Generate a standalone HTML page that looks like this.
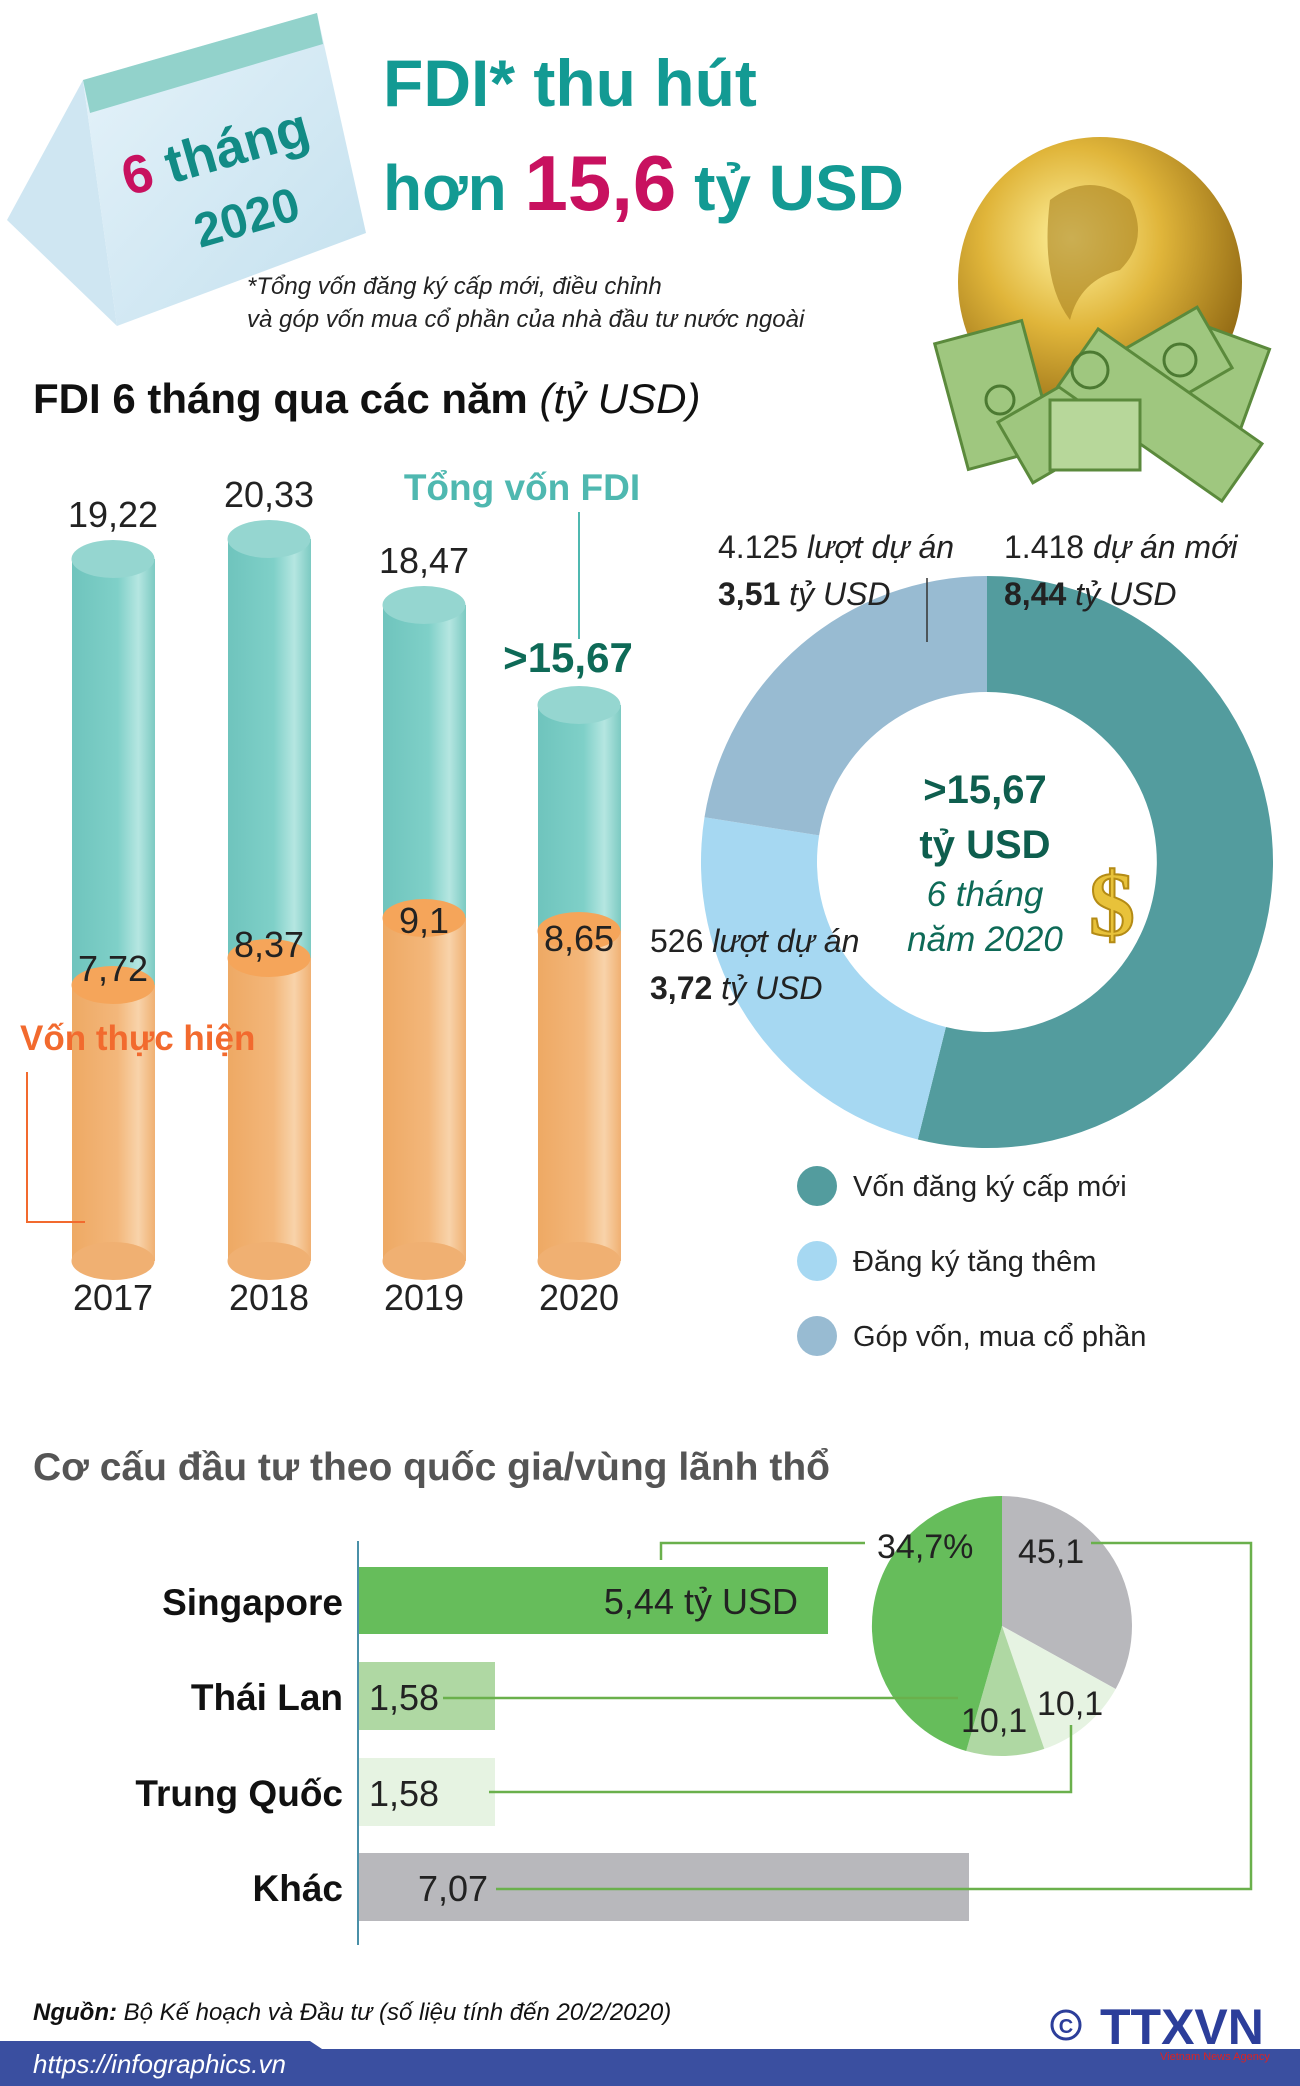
<!DOCTYPE html>
<html><head><meta charset="utf-8"><style>
html,body{margin:0;padding:0;background:#fff;}
svg{display:block;font-family:"Liberation Sans Narrow","Liberation Sans",sans-serif;}
</style></head><body>
<svg width="1300" height="2086" viewBox="0 0 1300 2086" xmlns="http://www.w3.org/2000/svg">
<defs>
<linearGradient id="tg" x1="0" x2="1" y1="0" y2="0"><stop offset="0" stop-color="#6fc4bd"/><stop offset="0.55" stop-color="#7fd0c8"/><stop offset="0.8" stop-color="#b5e6e1"/><stop offset="1" stop-color="#7ccac2"/></linearGradient>
<linearGradient id="og" x1="0" x2="1" y1="0" y2="0"><stop offset="0" stop-color="#eea964"/><stop offset="0.55" stop-color="#f3b77b"/><stop offset="0.8" stop-color="#f8d3aa"/><stop offset="1" stop-color="#f0b072"/></linearGradient>
<radialGradient id="gg" cx="0.4" cy="0.35" r="0.7"><stop offset="0" stop-color="#fff3a0"/><stop offset="0.45" stop-color="#e0b53a"/><stop offset="1" stop-color="#8a6210"/></radialGradient>
<linearGradient id="cal" x1="0" x2="1" y1="0" y2="1"><stop offset="0" stop-color="#e6f3fa"/><stop offset="1" stop-color="#c3e0ee"/></linearGradient>
</defs>

<!-- calendar -->
<polygon points="7,220 83,80 117,326" fill="#cfe6f2"/>
<polygon points="83,80 317,13 366,233 117,326" fill="url(#cal)"/>
<polygon points="83,80 317,13 323,44 90,113" fill="#92d2cb"/>
<text x="0" y="0" transform="translate(128,196) rotate(-16)" font-size="54" font-weight="bold" fill="#c8115f" font-family="Liberation Sans,sans-serif">6 <tspan fill="#128b85">tháng</tspan></text>
<text x="0" y="0" transform="translate(200,248) rotate(-16)" font-size="48" font-weight="bold" fill="#128b85" font-family="Liberation Sans,sans-serif">2020</text>

<!-- title -->
<text x="383" y="106" font-size="66" font-weight="bold" fill="#139a93">FDI* thu hút</text>
<text x="383" y="210" font-size="64" font-weight="bold" fill="#139a93">hơn <tspan fill="#c8115f" font-size="78">15,6</tspan> tỷ USD</text>
<text x="247" y="294" font-size="24" font-style="italic" fill="#222">*Tổng vốn đăng ký cấp mới, điều chỉnh</text>
<text x="247" y="327" font-size="24" font-style="italic" fill="#222">và góp vốn mua cổ phần của nhà đầu tư nước ngoài</text>

<!-- globe + money -->
<ellipse cx="1100" cy="282" rx="142" ry="145" fill="url(#gg)"/>
<path d="M1050 200 q40 -30 80 0 q20 40 -10 70 q-40 10 -50 50 q-30 -40 -20 -120z" fill="#a8801e" opacity="0.6"/>
<g fill="#9fc77f" stroke="#5b8a3c" stroke-width="3">
<rect x="950" y="330" width="90" height="130" transform="rotate(-15 995 395)"/>
<rect x="1160" y="330" width="90" height="130" transform="rotate(20 1205 395)"/>
<rect x="1000" y="360" width="230" height="70" transform="rotate(-30 1115 395)"/>
<rect x="1060" y="380" width="200" height="70" transform="rotate(35 1160 415)"/>
<rect x="1050" y="400" width="90" height="70" fill="#b7d79a"/>
</g>
<g fill="none" stroke="#4c7a32" stroke-width="3"><circle cx="1090" cy="370" r="18"/><circle cx="1180" cy="360" r="16"/><circle cx="1000" cy="400" r="14"/></g>

<!-- section 1 title -->
<text x="33" y="413" font-size="42" font-weight="bold" fill="#111">FDI 6 tháng qua các năm <tspan font-weight="normal" font-style="italic">(tỷ USD)</tspan></text>

<!-- cylinders -->
<g>
<rect x="72" y="559" width="83" height="702" fill="url(#tg)"/><rect x="72" y="985" width="83" height="276" fill="url(#og)"/><ellipse cx="113" cy="1261" rx="41.5" ry="19" fill="#f0b072"/><ellipse cx="113" cy="985" rx="41.5" ry="19" fill="#f5a55a"/><ellipse cx="113" cy="559" rx="41.5" ry="19" fill="#95d6d0"/>
<rect x="228" y="539" width="83" height="722" fill="url(#tg)"/><rect x="228" y="958" width="83" height="303" fill="url(#og)"/><ellipse cx="269" cy="1261" rx="41.5" ry="19" fill="#f0b072"/><ellipse cx="269" cy="958" rx="41.5" ry="19" fill="#f5a55a"/><ellipse cx="269" cy="539" rx="41.5" ry="19" fill="#95d6d0"/>
<rect x="383" y="605" width="83" height="656" fill="url(#tg)"/><rect x="383" y="918" width="83" height="343" fill="url(#og)"/><ellipse cx="424" cy="1261" rx="41.5" ry="19" fill="#f0b072"/><ellipse cx="424" cy="918" rx="41.5" ry="19" fill="#f5a55a"/><ellipse cx="424" cy="605" rx="41.5" ry="19" fill="#95d6d0"/>
<rect x="538" y="705" width="83" height="556" fill="url(#tg)"/><rect x="538" y="931" width="83" height="330" fill="url(#og)"/><ellipse cx="579" cy="1261" rx="41.5" ry="19" fill="#f0b072"/><ellipse cx="579" cy="931" rx="41.5" ry="19" fill="#f5a55a"/><ellipse cx="579" cy="705" rx="41.5" ry="19" fill="#95d6d0"/>
</g>
<g font-size="36" fill="#222" text-anchor="middle">
<text x="113" y="527">19,22</text><text x="269" y="507">20,33</text><text x="424" y="573">18,47</text>
<text x="113" y="981">7,72</text><text x="269" y="957">8,37</text><text x="424" y="933">9,1</text><text x="579" y="951">8,65</text>
<text x="113" y="1310">2017</text><text x="269" y="1310">2018</text><text x="424" y="1310">2019</text><text x="579" y="1310">2020</text>
</g>
<text x="568" y="672" font-size="42" font-weight="bold" fill="#0e6a57" text-anchor="middle">&gt;15,67</text>
<text x="522" y="500" font-size="37" font-weight="bold" fill="#4fb8b0" text-anchor="middle">Tổng vốn FDI</text>
<line x1="579" y1="512" x2="579" y2="639" stroke="#4fb8b0" stroke-width="2"/>
<text x="20" y="1050" font-size="35" font-weight="bold" fill="#f26a2e">Vốn thực hiện</text>
<polyline points="27,1072 27,1222 85,1222" fill="none" stroke="#f26a2e" stroke-width="2"/>

<!-- donut -->
<path d="M987,576 A286,286 0 1 1 917.8,1139.5 L945.9,1027 A170,170 0 1 0 987,692 Z" fill="#539c9e"/>
<path d="M917.8,1139.5 A286,286 0 0 1 704.5,817.3 L819.1,835.4 A170,170 0 0 0 945.9,1027 Z" fill="#a6d8f2"/>
<path d="M704.5,817.3 A286,286 0 0 1 987,576 L987,692 A170,170 0 0 0 819.1,835.4 Z" fill="#98bbd2"/>
<line x1="927" y1="578" x2="927" y2="642" stroke="#333" stroke-width="1.5"/>
<g font-family="Liberation Sans,sans-serif" text-anchor="middle">
<text x="985" y="803" font-size="40" font-weight="bold" fill="#0e5e4e">&gt;15,67</text>
<text x="985" y="858" font-size="40" font-weight="bold" fill="#0e5e4e">tỷ USD</text>
<text x="985" y="906" font-size="35" font-style="italic" fill="#0e6a57">6 tháng</text>
<text x="985" y="951" font-size="35" font-style="italic" fill="#0e6a57">năm 2020</text>
</g>
<text x="1112" y="935" font-size="92" font-weight="bold" fill="#e8c23a" stroke="#b48b15" stroke-width="2" text-anchor="middle" font-family="Liberation Serif,serif">$</text>
<g font-family="Liberation Sans,sans-serif" font-size="32" fill="#222">
<text x="718" y="558">4.125 <tspan font-style="italic">lượt dự án</tspan></text>
<text x="718" y="605"><tspan font-weight="bold">3,51</tspan> <tspan font-style="italic">tỷ USD</tspan></text>
<text x="1004" y="558">1.418  <tspan font-style="italic">dự án mới</tspan></text>
<text x="1004" y="605"><tspan font-weight="bold">8,44</tspan> <tspan font-style="italic">tỷ USD</tspan></text>
<text x="650" y="952">526 <tspan font-style="italic">lượt dự án</tspan></text>
<text x="650" y="999"><tspan font-weight="bold">3,72</tspan> <tspan font-style="italic">tỷ USD</tspan></text>
</g>
<!-- legend -->
<circle cx="817" cy="1186" r="20" fill="#539c9e"/><circle cx="817" cy="1261" r="20" fill="#a6d8f2"/><circle cx="817" cy="1336" r="20" fill="#98bbd2"/>
<g font-family="Liberation Sans,sans-serif" font-size="29" fill="#222">
<text x="853" y="1196">Vốn đăng ký cấp mới</text><text x="853" y="1271">Đăng ký tăng thêm</text><text x="853" y="1346">Góp vốn, mua cổ phần</text>
</g>

<!-- section 2 -->
<text x="33" y="1480" font-size="39" font-weight="bold" fill="#555">Cơ cấu đầu tư theo quốc gia/vùng lãnh thổ</text>
<rect x="359" y="1567" width="469" height="67" fill="#66bd5b"/>
<rect x="359" y="1662" width="136" height="68" fill="#afd8a3"/>
<rect x="359" y="1758" width="136" height="68" fill="#e6f3e2"/>
<rect x="359" y="1853" width="610" height="68" fill="#b8b8bc"/>
<line x1="358" y1="1541" x2="358" y2="1945" stroke="#4a90a8" stroke-width="2"/>
<g font-size="37" font-weight="bold" fill="#111" text-anchor="end">
<text x="343" y="1615">Singapore</text><text x="343" y="1710">Thái Lan</text><text x="343" y="1806">Trung Quốc</text><text x="343" y="1901">Khác</text>
</g>
<g font-size="36" fill="#222">
<text x="798" y="1614" text-anchor="end">5,44 tỷ USD</text>
<text x="369" y="1710">1,58</text><text x="369" y="1806">1,58</text><text x="418" y="1901">7,07</text>
</g>
<path d="M1002,1626 L1002,1496 A130,130 0 0 1 1115.7,1689 Z" fill="#b8b8bc"/>
<path d="M1002,1626 L1115.7,1689 A130,130 0 0 1 1044.3,1748.9 Z" fill="#e6f3e2"/>
<path d="M1002,1626 L1044.3,1748.9 A130,130 0 0 1 966.2,1751 Z" fill="#afd8a3"/>
<path d="M1002,1626 L966.2,1751 A130,130 0 0 1 1002,1496 Z" fill="#66bd5b"/>
<g fill="none" stroke="#6ab04c" stroke-width="2.5">
<polyline points="661,1560 661,1543 865,1543"/>
<polyline points="1091,1543 1251,1543 1251,1889 496,1889"/>
<polyline points="443,1698 958,1698"/>
<polyline points="489,1792 1071,1792 1071,1725"/>
</g>
<g font-size="34" fill="#222">
<text x="877" y="1558">34,7%</text><text x="1018" y="1563">45,1</text>
<text x="961" y="1732">10,1</text><text x="1037" y="1715">10,1</text>
</g>

<!-- footer -->
<text x="33" y="2020" font-size="24" font-style="italic" fill="#111"><tspan font-weight="bold">Nguồn:</tspan> Bộ Kế hoạch và Đầu tư (số liệu tính đến 20/2/2020)</text>
<polygon points="0,2041 310,2041 322,2049 1300,2049 1300,2086 0,2086" fill="#3a4fa0"/>
<text x="33" y="2073" font-size="26" font-style="italic" fill="#fff">https://infographics.vn</text>
<circle cx="1066" cy="2025" r="14" fill="none" stroke="#2c3e9a" stroke-width="3"/>
<text x="1066" y="2033" font-size="20" font-weight="bold" fill="#2c3e9a" text-anchor="middle">C</text>
<text x="1100" y="2044" font-size="50" font-weight="bold" fill="#2c3e9a" font-family="Liberation Sans,sans-serif">TTXVN</text>
<text x="1160" y="2060" font-size="11" fill="#d22">Vietnam News Agency</text>
</svg>
</body></html>
